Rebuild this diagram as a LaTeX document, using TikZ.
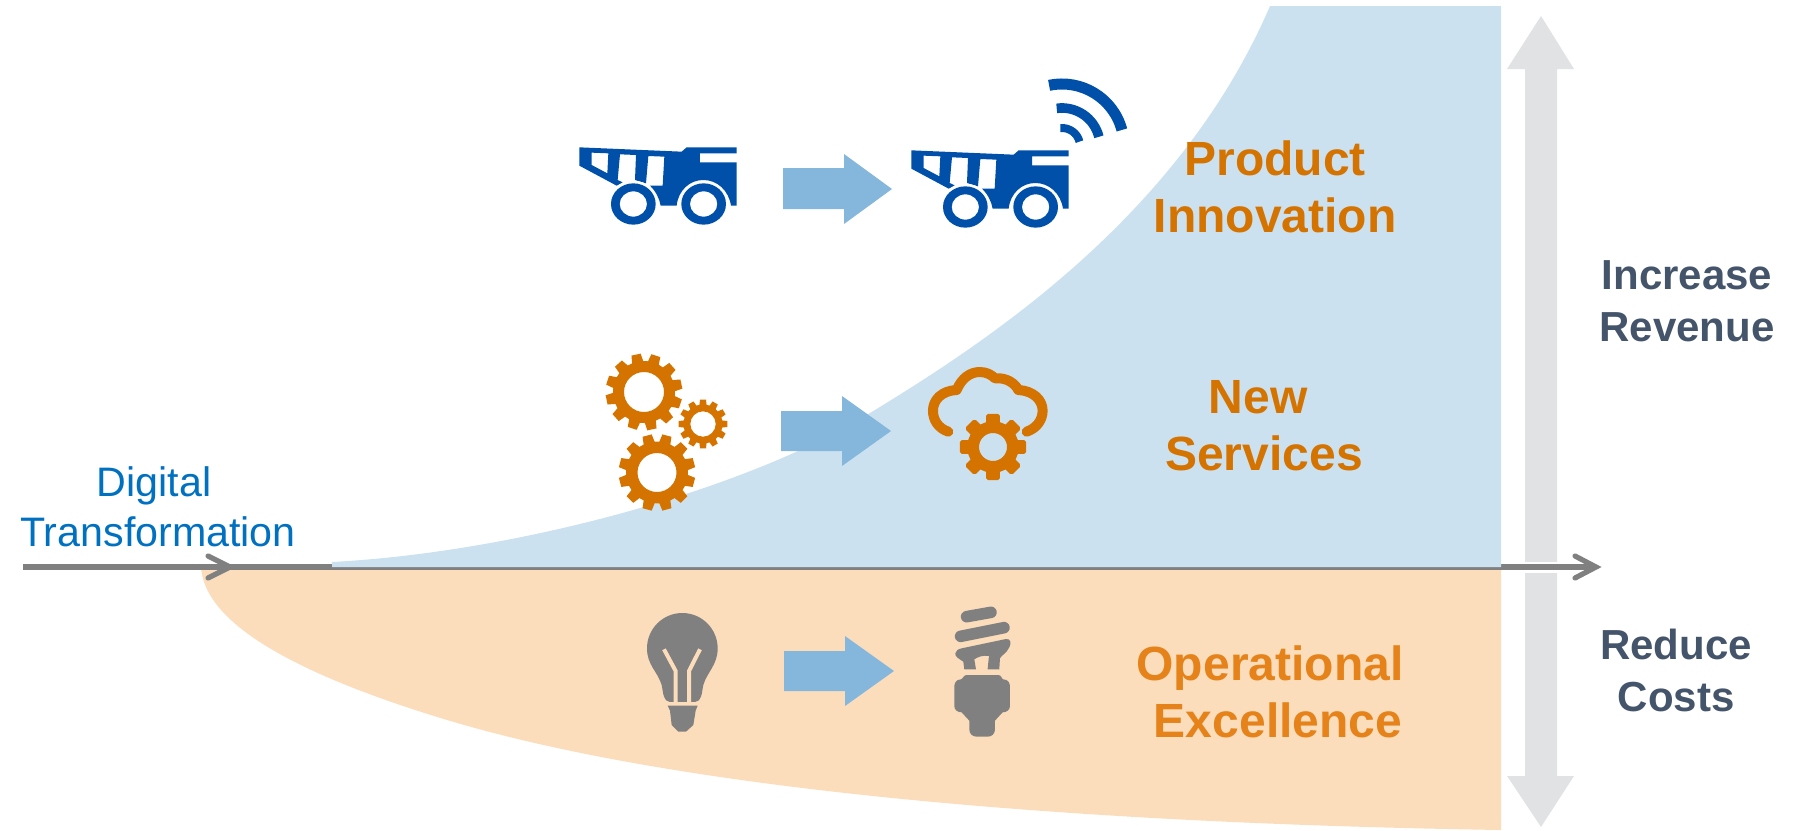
\documentclass[tikz,border=0pt]{standalone}
\usepackage{fontspec}
\setmainfont{Liberation Sans}
\definecolor{truckblue}{HTML}{0050AA}
\definecolor{gearorange}{HTML}{D47300}
\definecolor{opsorange}{HTML}{E5831A}
\definecolor{bluezone}{HTML}{CCE1F0}
\definecolor{orangezone}{HTML}{FBDDBB}
\definecolor{flowblue}{HTML}{85B7DD}
\definecolor{axisgrey}{HTML}{808080}
\definecolor{biggrey}{HTML}{E1E2E4}
\definecolor{navy}{HTML}{44546A}
\definecolor{dtblue}{HTML}{0070C0}
\tikzset{
  flowarrow/.style={fill=flowblue,draw=none},
  axisline/.style={draw=axisgrey,line width=2.6pt},
  chevron/.style={draw=axisgrey,line width=2.6pt,line cap=round,miter limit=10},
  biglabel/.style={inner sep=0pt,align=center,font=\fontsize{24}{28.5}\selectfont\bfseries},
  sidelabel/.style={inner sep=0pt,align=center,text=navy,font=\fontsize{21}{26}\selectfont\bfseries},
  gearextra/.style={},
}
% cx cy outer root hole teeth rotation w-root w-tip
\newcommand{\gearicon}[9]{%
  \fill[gearorange,even odd rule,gearextra]
    (#1,#2) +({#7-#8}:#4)
    \foreach \i [evaluate=\i as \a using #7+\i*360/#6] in {0,...,\numexpr#6-1\relax} {
      -- +({\a-#8}:#4) -- +({\a-#9}:#3) -- +({\a+#9}:#3) -- +({\a+#8}:#4)
    } -- cycle
    (#1,#2) circle[radius=#5];
}
\newcommand{\truckicon}[2]{%
  \begin{scope}[shift={(#1,#2)},xscale=0.3333,yscale=0.3333]
    \fill[truckblue,even odd rule]
      (28,37) -- (335,50) -- (350,37) -- (500,37) -- (500,55) -- (390,55) -- (390,82) -- (500,82) -- (500,212) -- (483,212)
      .. controls (476,165) and (440,135) .. (400,135)
      .. controls (360,135) and (325,165) .. (320,212)
      -- (272,212) .. controls (268,190) and (258,170) .. (240,152)
      -- (278,152) -- (283,65) -- (235,63) -- (228,145) -- (195,135) -- (198,60) -- (150,58) -- (143,135) -- (158,142) -- (140,152) -- (28,92) -- cycle
      (65,53) -- (115,55) -- (112,115) -- (65,90) -- cycle;
    \fill[white] (190,207) ellipse[x radius=74,y radius=70];
    \fill[truckblue,even odd rule] (190,207) ellipse[x radius=67,y radius=62] (190,207) ellipse[x radius=41,y radius=38];
    \fill[truckblue,even odd rule] (401,207) ellipse[x radius=67,y radius=62] (401,207) ellipse[x radius=41,y radius=38];
  \end{scope}
}
\begin{document}
\begin{tikzpicture}[x=0.5pt,y=-0.5pt]
\useasboundingbox (0,0) rectangle (1793,830);
% lower zone
\fill[orangezone] (201,567) .. controls (205,632) and (325,683) .. (447,720)
  .. controls (650,781) and (1000,822) .. (1501,830) -- (1501,567) -- cycle;
% big double arrow
\fill[biggrey] (1541,16) -- (1574,69) -- (1557,69) -- (1557,776) -- (1574,776) -- (1541,827) -- (1507,776) -- (1525,776) -- (1525,69) -- (1507,69) -- cycle;
\fill[white] (1520,562) rectangle (1562,573);
% axis
\coordinate (axisstart) at (23,567);
\coordinate (axisend) at (1596,567);
\coordinate (midtip) at (230,567);
\coordinate (midup) at (208,556);
\coordinate (middown) at (208,578);
\coordinate (endup) at (1575,556);
\coordinate (enddown) at (1575,578);
\draw[axisline] (axisstart) -- (axisend);
\draw[chevron] (midup) -- (midtip) -- (middown);
\draw[chevron] (endup) -- (axisend) -- (enddown);
% upper zone
\fill[bluezone] (332,562) .. controls (520,552) and (750,488) .. (870,413)
  .. controls (990,340) and (1180,215) .. (1270,6) -- (1501,6) -- (1501,567) -- (332,567) -- cycle;
% flow arrows
\fill[flowarrow] (783,168) -- (844,168) -- (844,154) -- (892,189) -- (844,224) -- (844,209) -- (783,209) -- cycle;
\fill[flowarrow] (781,411) -- (842,411) -- (842,396) -- (891,431) -- (842,466) -- (842,451) -- (781,451) -- cycle;
\fill[flowarrow] (784,651) -- (845,651) -- (845,636) -- (894,671) -- (845,706) -- (845,691) -- (784,691) -- cycle;
% trucks
\truckicon{570}{135}
\truckicon{902}{138}
% wifi
\draw[truckblue,line width=5.5pt] (1062,146) ++(-102:62) arc[start angle=-102,end angle=-15,radius=62];
\draw[truckblue,line width=4.8pt] (1062,146) ++(-98:38) arc[start angle=-98,end angle=-14,radius=38];
\draw[truckblue,line width=4pt] (1062,146) ++(-95:18) arc[start angle=-95,end angle=-14,radius=18];
% gears
\gearicon{644}{392}{38.5}{31}{20}{12}{18}{10.5}{7}
\gearicon{703}{424}{24.5}{19.5}{12.7}{12}{0}{10.5}{7}
\gearicon{657}{472.5}{38.5}{31}{19.5}{12}{15}{10.5}{7}
% cloud with gear
\begin{scope}[shift={(590,340)},xscale=0.3333,yscale=0.3333]
  \draw[gearorange,line width=5pt,line cap=round,line join=round]
    (1075,275) .. controls (1045,265) and (1029,240) .. (1029,212)
    .. controls (1029,180) and (1055,152) .. (1100,150)
    .. controls (1115,115) and (1140,96) .. (1170,96)
    .. controls (1190,96) and (1205,105) .. (1215,115)
    .. controls (1250,112) and (1275,130) .. (1285,150)
    .. controls (1330,152) and (1358,180) .. (1358,212)
    .. controls (1358,240) and (1340,265) .. (1310,275);
\end{scope}
\begin{scope}[gearextra/.style={draw=gearorange,line width=2pt,line join=round}]
\gearicon{993}{447}{31.5}{24}{16}{8}{0}{12}{9}
\end{scope}
% bulb
\begin{scope}[shift={(620,590)},xscale=0.3333,yscale=0.3333]
  \fill[axisgrey] (187,69) .. controls (245,69) and (293,116) .. (293,175)
    .. controls (293,225) and (262,245) .. (250,285)
    .. controls (245,310) and (245,335) .. (225,336)
    -- (150,336) .. controls (130,335) and (130,310) .. (125,285)
    .. controls (113,245) and (81,225) .. (81,175)
    .. controls (81,116) and (129,69) .. (187,69) -- cycle;
  \draw[orangezone,line width=2pt] (132,178) -- (167,243) -- (167,340);
  \draw[orangezone,line width=2pt] (240,178) -- (207,243) -- (207,340);
  \fill[axisgrey] (143,347) -- (233,347) -- (227,362) -- (220,405) -- (198,425) -- (175,425) -- (155,405) -- (150,362) -- cycle;
  % spiral bulb
  \draw[axisgrey,line width=5.8pt,line cap=round] (1040,80) -- (1113,67);
  \draw[axisgrey,line width=5.8pt,line cap=round] (1022,139) -- (1152,113);
  \fill[axisgrey] (1025,175) -- (1158,147) .. controls (1172,145) and (1175,160) .. (1168,172)
    .. controls (1160,190) and (1145,195) .. (1140,205) -- (1138,238) -- (1103,238) -- (1107,198)
    .. controls (1090,195) and (1075,200) .. (1063,208) -- (1068,238) -- (1033,238) -- (1030,215)
    .. controls (1015,205) and (1005,200) .. (1006,190) .. controls (1007,182) and (1015,177) .. (1025,175) -- cycle;
  \fill[axisgrey] (1040,255) -- (1135,255) .. controls (1145,255) and (1145,268) .. (1150,268)
    .. controls (1165,268) and (1170,280) .. (1170,290) -- (1170,348)
    .. controls (1170,360) and (1160,367) .. (1148,367) -- (1125,392) -- (1125,418)
    .. controls (1125,432) and (1115,440) .. (1103,440) -- (1070,440)
    .. controls (1058,440) and (1048,432) .. (1048,418) -- (1048,392) -- (1025,367)
    .. controls (1013,367) and (1003,360) .. (1003,348) -- (1003,290)
    .. controls (1003,280) and (1008,268) .. (1023,268)
    .. controls (1028,268) and (1030,255) .. (1040,255) -- cycle;
\end{scope}
% labels
\node[inner sep=0pt,align=center,text=dtblue,font=\fontsize{20.6}{25}\selectfont] (dt) at (158,507) {Digital\hspace*{4pt}\\Transformation};
\node[biglabel,text=gearorange] (pi) at (1275,187) {Product\\Innovation};
\node[biglabel,text=gearorange] (ns) at (1264,426) {New\hspace*{6pt}\\Services};
\node[biglabel,text=opsorange] (oe) at (1270,692) {Operational\\\hspace*{8pt}Excellence};
\node[sidelabel] (ir) at (1687,301) {Increase\\Revenue};
\node[sidelabel] (rc) at (1676,670) {Reduce\\Costs};
\end{tikzpicture}
\end{document}
